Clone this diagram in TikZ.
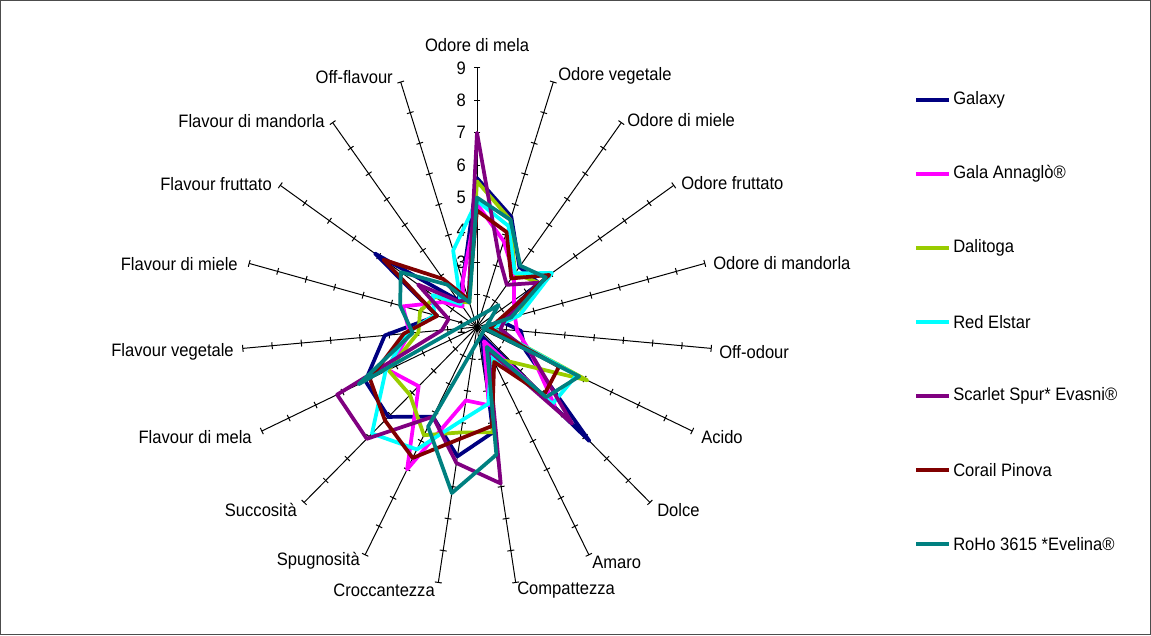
\documentclass[tikz,border=0pt]{standalone}
\usepackage{fontspec}
\setmainfont{Liberation Sans}[FakeStretch=0.92]
\usetikzlibrary{calc}

\definecolor{galaxy}{RGB}{0,0,128}
\definecolor{gala}{RGB}{255,0,255}
\definecolor{dalitoga}{RGB}{153,204,0}
\definecolor{elstar}{RGB}{0,255,255}
\definecolor{scarlet}{RGB}{128,0,128}
\definecolor{corail}{RGB}{128,0,0}
\definecolor{roho}{RGB}{0,128,128}

\tikzset{
  axisline/.style={black, line width=0.75pt},
  serie/.style={line width=2.8pt, line join=round},
  lbl/.style={inner sep=0pt, font=\fontsize{13.5}{16}\selectfont},
}

% one closed polygon per variety, values on the 19 axes
\newcommand{\radarserie}[2]{%
  \foreach \v [count=\i from 0] in {#2} {
    \coordinate (#1-\i) at ({477+(\v-1)*29.375*sin(\i*360/19)},{327-(\v-1)*32.375*cos(\i*360/19)});
  }
  \draw[serie, #1] (#1-0) \foreach \i in {1,...,18} { -- (#1-\i) } -- cycle;
}

\begin{document}
\begin{tikzpicture}[x=0.75pt, y=-0.75pt, line cap=butt]
  \useasboundingbox (0,0) rectangle (1151,635);
  \draw[black!70, line width=0.75pt] (0.5,0.5) rectangle (1150.5,634.5);

  \coordinate (c) at (477,327);

  % axes with ticks
  \foreach \i in {0,...,18} {
    \coordinate (ax-\i) at ({477+8*29.375*sin(\i*360/19)},{327-8*32.375*cos(\i*360/19)});
    \draw[axisline] (c) -- (ax-\i);
    \foreach \k in {1,...,8} {
      \coordinate (t) at ({477+\k*29.375*sin(\i*360/19)},{327-\k*32.375*cos(\i*360/19)});
      \draw[axisline] ($(t)!2.6pt!90:(c)$) -- ($(t)!2.6pt!-90:(c)$);
    }
  }
  \foreach \k in {1,...,9}
    \node[lbl, anchor=east] (tk-\k) at (466,{327-(\k-1)*32.375}) {\k};

  % series
  \radarserie{galaxy}{5.6,4.6,3.35,3.5,1.8,2.5,2.8,6.2,1.3,4.3,5.05,4.15,5.1,5.15,4.15,2.4,5.15,2.05,2.5}
  \radarserie{gala}{4.8,3.8,3.05,2.5,2.33,2.37,3.0,4.6,1.5,3.45,3.3,6.0,3.7,4.3,3.3,3.6,2.4,1.8,2.5}
  \radarserie{dalitoga}{5.5,4.5,3.1,3.5,2.5,1.5,5.1,2.6,2.1,4.3,4.3,4.8,4.1,4.3,3.0,3.0,2.7,2.0,1.8}
  \radarserie{elstar}{4.9,4.3,3.1,4.05,2.5,1.5,4.7,4.5,2.0,3.4,3.9,5.3,5.86,4.4,3.4,2.5,2.8,1.9,3.5}
  \radarserie{scarlet}{7.0,3.3,2.65,3.5,2.0,1.8,3.0,5.4,1.8,5.9,5.26,4.15,6.1,6.2,2.2,2.0,3.4,2.0,1.9}
  \radarserie{corail}{4.6,4.1,2.9,3.94,1.72,1.45,4.05,4.1,2.23,4.1,4.5,5.6,5.26,4.98,3.5,2.4,4.8,2.88,1.9}
  \radarserie{roho}{5.0,4.5,3.4,3.8,2.2,1.2,4.8,4.2,1.7,5.0,6.2,4.5,0.0,5.4,3.2,3.7,4.1,2.66,1.8}

  % axis labels
  \foreach \lab/\x/\y/\anc [count=\i from 0] in {%
      Odore di mela/477/45/center, Odore vegetale/558/76/west,
      Odore di miele/627/120/west, Odore fruttato/681/183/west,
      Odore di mandorla/713/263/west, Off-odour/719/352/west,
      Acido/701/437/west, Dolce/657/510/west, Amaro/592/562/west,
      Compattezza/517/590/west, Croccantezza/435/590/east,
      Spugnosità/360/561/east, Succosità/297/510/east,
      Flavour di mela/252/437/east, Flavour vegetale/234/352/east,
      Flavour di miele/238/264/east, Flavour fruttato/272/184/east,
      Flavour di mandorla/325/121/east, Off-flavour/393/77/east}
    \node[lbl, anchor=\anc] (lab-\i) at (\x,\y) {\lab};

  % legend
  \foreach \ser/\name [count=\j from 0] in {galaxy/Galaxy, gala/Gala Annaglò®,
      dalitoga/Dalitoga, elstar/Red Elstar, scarlet/Scarlet Spur* Evasni®,
      corail/Corail Pinova, roho/RoHo 3615 *Evelina®} {
    \node[lbl, anchor=west] (leg-\ser) at (953,{100+\j*74}) {\name};
    \draw[serie, \ser] ($(leg-\ser.west)+(-37,0)$) -- ($(leg-\ser.west)+(-4,0)$);
  }
\end{tikzpicture}
\end{document}
